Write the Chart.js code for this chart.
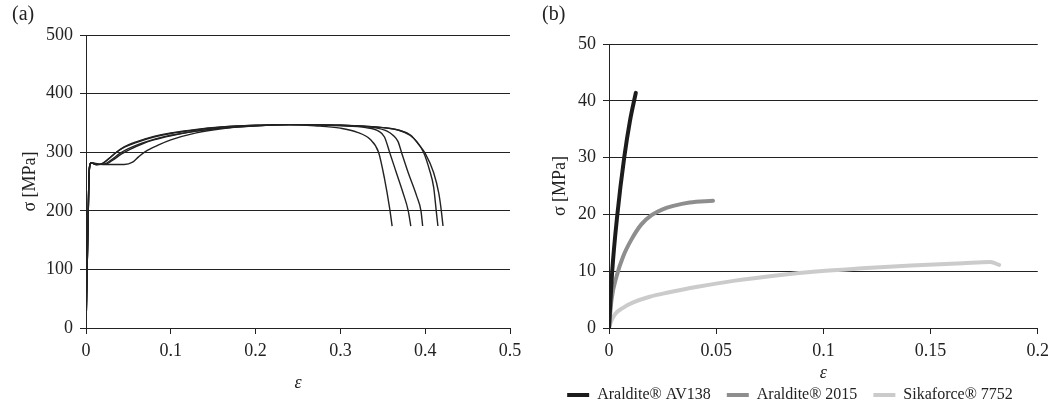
<!DOCTYPE html>
<html>
<head>
<meta charset="utf-8">
<script src="https://cdn.jsdelivr.net/npm/chart.js@4"></script>
<style>
  html, body { margin: 0; padding: 0; background: #fff; }
  #wrap { position: relative; width: 1055px; height: 406px; }
  #chartA { position: absolute; left: 0; top: 0; }
  #chartB { position: absolute; left: 530px; top: 0; }
</style>
</head>
<body>
<div id="wrap">
  <canvas id="chartA" width="530" height="406"></canvas>
  <canvas id="chartB" width="525" height="406"></canvas>
</div>
<script>
/* ---------- (a) steel tensile curves: strain / stress [MPa] ---------- */
const strainA1 = [0, 0.002, 0.004, 0.006, 0.012, 0.018, 0.026, 0.035, 0.045, 0.06, 0.08, 0.1, 0.13, 0.16, 0.2, 0.24, 0.27, 0.3, 0.32, 0.335, 0.345, 0.352, 0.358, 0.361];
const stressA1 = [0, 150, 272, 282, 279, 280, 288, 299, 309, 318, 327, 333, 339, 343, 346, 347, 345, 341, 334, 322, 300, 255, 205, 174];

const strainA2 = [0, 0.002, 0.004, 0.006, 0.012, 0.019, 0.027, 0.036, 0.046, 0.06, 0.08, 0.1, 0.13, 0.16, 0.2, 0.24, 0.3, 0.33, 0.345, 0.352, 0.358, 0.366, 0.374, 0.38, 0.383];
const stressA2 = [0, 150, 272, 282, 279, 280, 289, 300, 309, 317, 326, 332, 338, 343, 346, 347, 345, 342, 336, 326, 300, 265, 230, 200, 174];

const strainA3 = [0, 0.002, 0.004, 0.006, 0.02, 0.045, 0.055, 0.062, 0.07, 0.085, 0.1, 0.13, 0.16, 0.2, 0.24, 0.3, 0.34, 0.355, 0.362, 0.368, 0.372, 0.38, 0.39, 0.395, 0.397];
const stressA3 = [0, 150, 272, 282, 279, 279, 283, 292, 301, 312, 321, 333, 340, 345, 347, 346, 342, 336, 329, 318, 300, 265, 225, 200, 174];

const strainA4 = [0, 0.002, 0.004, 0.006, 0.012, 0.022, 0.03, 0.04, 0.05, 0.065, 0.08, 0.1, 0.13, 0.16, 0.2, 0.24, 0.3, 0.35, 0.37, 0.382, 0.39, 0.398, 0.405, 0.41, 0.413, 0.415];
const stressA4 = [0, 150, 272, 282, 279, 280, 287, 298, 306, 315, 322, 329, 336, 341, 345, 347, 346, 342, 337, 329, 318, 300, 270, 240, 200, 174];

const strainA5 = [0, 0.002, 0.004, 0.006, 0.012, 0.024, 0.032, 0.042, 0.052, 0.066, 0.08, 0.1, 0.13, 0.16, 0.2, 0.24, 0.3, 0.35, 0.37, 0.383, 0.392, 0.4, 0.41, 0.416, 0.419, 0.421];
const stressA5 = [0, 150, 272, 282, 279, 280, 287, 297, 305, 314, 321, 328, 336, 341, 345, 347, 346, 342, 337, 329, 314, 298, 265, 230, 200, 174];

/* ---------- (b) adhesives: strain / stress [MPa] ---------- */
const adhesiveNames = ["Araldite® AV138", "Araldite® 2015", "Sikaforce® 7752"];

const strainAV138 = [0, 0.0015, 0.0039, 0.0071, 0.0098, 0.0125];
const stressAV138 = [0, 10, 20, 30, 36.5, 41.4];

const strain2015 = [0, 0.0012, 0.0036, 0.0066, 0.0105, 0.015, 0.02, 0.025, 0.03, 0.0376, 0.0485];
const stress2015 = [0, 5, 9.2, 12.6, 15.6, 18.2, 19.9, 20.9, 21.5, 22.1, 22.4];

const strain7752 = [0, 0.001, 0.003, 0.0067, 0.0113, 0.019, 0.027, 0.042, 0.058, 0.079, 0.098, 0.118, 0.141, 0.165, 0.178, 0.182];
const stress7752 = [0, 1.2, 2.5, 3.6, 4.5, 5.5, 6.2, 7.3, 8.3, 9.3, 10, 10.5, 11.0, 11.4, 11.6, 11.1];

/* ---------- helpers ---------- */
const SERIF = '"Liberation Serif", "Times New Roman", serif';
const INK = '#222';

function pts(xs, ys) {
    return xs.map((x, i) => ({ x: x, y: ys[i] }));
}

// plain tick text: 0, 0.05, 0.1 ... (no padded decimals)
const plainTick = v => String(Math.round(v * 1000) / 1000);

function axisTitle(text, pad, italic) {
    return {
        display: true, text: text, color: INK,
        font: { family: SERIF, size: 18, style: italic ? 'italic' : 'normal' },
        padding: pad
    };
}

function thinCurve(xs, ys) {
    return {
        data: pts(xs, ys), borderColor: INK, borderWidth: 1.4,
        pointRadius: 0, cubicInterpolationMode: 'monotone', fill: false
    };
}

/* =========================================
   CHART (a)
========================================= */
new Chart(document.getElementById('chartA'), {
    type: 'line',
    data: {
        datasets: [
            thinCurve(strainA1, stressA1),
            thinCurve(strainA2, stressA2),
            thinCurve(strainA3, stressA3),
            thinCurve(strainA4, stressA4),
            thinCurve(strainA5, stressA5)
        ]
    },
    options: {
        responsive: false, animation: false,
        layout: { padding: { left: 12, right: 20, top: 0, bottom: 0 } },
        plugins: {
            legend: { display: false },
            tooltip: { enabled: false },
            title: {
                display: true, text: '(a)', align: 'start', color: INK,
                font: { family: SERIF, size: 20, weight: 'normal' },
                padding: { top: 3, bottom: 8 }
            }
        },
        scales: {
            x: {
                type: 'linear', min: 0, max: 0.5,
                ticks: { stepSize: 0.1, color: INK, padding: 6, font: { family: SERIF, size: 18 }, callback: plainTick },
                grid: { drawOnChartArea: false, drawTicks: true, tickLength: 6, color: INK },
                border: { color: INK, width: 1 },
                title: axisTitle('ε', { top: 0, bottom: 12 }, true),
                afterFit: s => { s.height = 78; }
            },
            y: {
                min: 0, max: 500,
                ticks: { stepSize: 100, color: INK, padding: 7, font: { family: SERIF, size: 18 } },
                grid: { drawTicks: true, tickLength: 6, color: INK, lineWidth: 1 },
                border: { color: INK, width: 1 },
                title: axisTitle('σ [MPa]', { top: 7, bottom: 0 }, false),
                afterFit: s => { s.width = 74; }
            }
        }
    }
});

/* =========================================
   CHART (b)
========================================= */
const adhesiveColors = ['#1c1c1c', '#8e8e8e', '#cbcbcb'];
const adhesiveData = [pts(strainAV138, stressAV138), pts(strain2015, stress2015), pts(strain7752, stress7752)];

new Chart(document.getElementById('chartB'), {
    type: 'line',
    data: {
        datasets: adhesiveNames.map((name, i) => ({
            label: name,
            data: adhesiveData[i],
            borderColor: adhesiveColors[i],
            backgroundColor: adhesiveColors[i],
            borderWidth: 4,
            borderCapStyle: 'round',
            pointRadius: 0,
            pointStyle: 'line',
            cubicInterpolationMode: 'monotone',
            fill: false
        }))
    },
    options: {
        responsive: false, animation: false,
        // negative bottom padding pulls the legend's empty band below the canvas
        layout: { padding: { left: 12, right: 17, top: 0, bottom: -7 } },
        plugins: {
            tooltip: { enabled: false },
            title: {
                display: true, text: '(b)', align: 'start', color: INK,
                font: { family: SERIF, size: 20, weight: 'normal' },
                padding: { top: 3, bottom: 17 }
            },
            legend: {
                position: 'bottom',
                labels: {
                    usePointStyle: true, pointStyle: 'line', pointStyleWidth: 22,
                    color: INK, padding: 16,
                    font: { family: SERIF, size: 16 }
                }
            }
        },
        scales: {
            x: {
                type: 'linear', min: 0, max: 0.2,
                ticks: { stepSize: 0.05, color: INK, padding: 6, font: { family: SERIF, size: 18 }, callback: plainTick },
                grid: { drawOnChartArea: false, drawTicks: true, tickLength: 6, color: INK },
                border: { color: INK, width: 1 },
                title: axisTitle('ε', { top: 0, bottom: -13 }, true),
                afterFit: s => { s.height = 43; }
            },
            y: {
                min: 0, max: 50,
                ticks: { stepSize: 10, color: INK, padding: 7, font: { family: SERIF, size: 18 } },
                grid: { drawTicks: true, tickLength: 6, color: INK, lineWidth: 1 },
                border: { color: INK, width: 1 },
                title: axisTitle('σ [MPa]', { top: 7, bottom: 0 }, false),
                afterFit: s => { s.width = 67; }
            }
        }
    }
});
</script>
</body>
</html>
